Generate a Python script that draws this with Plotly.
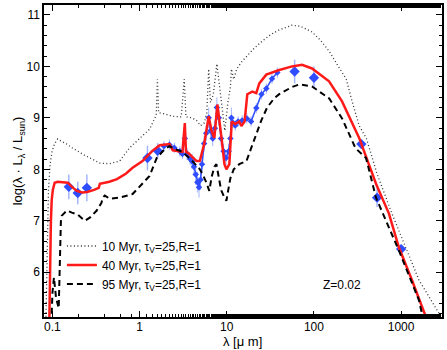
import plotly.graph_objects as go

# model SEDs: wavelength [micron], log(lambda L_lambda / L_sun)
wl_10 = [0.084, 0.087, 0.090, 0.094, 0.099, 0.106, 0.115, 0.125, 0.146, 0.167, 0.19, 0.23, 0.27,
         0.32, 0.35, 0.45, 0.59, 0.77, 1.0, 1.3, 1.55, 1.6, 1.65, 1.9, 2.4, 3.0, 3.25, 3.4, 4.0,
         4.5, 5.0, 5.5, 5.9, 6.2, 6.5, 7.0, 7.7, 8.3, 8.7, 9.5, 10.3, 11.0, 11.3, 12.0, 13.0,
         15.0, 17.0, 20.0, 25.0, 32.0, 40.0, 56.0, 70.0, 95.0, 120.0, 150.0, 190.0, 234.0,
         274.0, 330.0, 400.0, 530.0, 785.0, 1135.0, 1600.0, 2700.0, 3000.0]
sed_10 = [5.0, 6.6, 7.6, 8.1, 8.35, 8.5, 8.59, 8.55, 8.49, 8.42, 8.36, 8.28, 8.22,
          8.15, 8.12, 8.11, 8.16, 8.42, 8.6, 8.78, 9.05, 9.75, 9.1, 9.08, 9.03, 9.02, 9.75, 9.02, 9.0,
          8.95, 8.85, 8.9, 9.1, 9.95, 9.3, 9.45, 10.05, 9.6, 9.2, 8.75, 9.3, 9.6, 9.95, 9.75, 9.95,
          10.1, 10.2, 10.33, 10.48, 10.62, 10.71, 10.8, 10.78, 10.67, 10.5, 10.29, 10.0, 9.76,
          9.32, 8.85, 8.6, 7.91, 7.14, 6.48, 5.85, 5.21, 5.1]

wl_40 = [0.092, 0.094, 0.096, 0.098, 0.101, 0.106, 0.115, 0.13, 0.15, 0.17, 0.19, 0.22, 0.25,
         0.3, 0.34, 0.35, 0.45, 0.55, 0.7, 0.83, 1.08, 1.4, 1.7, 2.2, 2.4, 3.1, 3.3, 3.4, 3.6,
         4.5, 4.9, 5.5, 6.2, 6.7, 7.2, 7.8, 8.2, 8.7, 9.4, 9.9, 10.7, 11.0, 11.4, 12.5, 13.9,
         14.7, 16.0, 17.2, 19.6, 21.8, 23.6, 28.4, 40.0, 56.0, 73.0, 95.0, 149.0, 210.0, 300.0,
         330.0, 515.0, 725.0, 944.0, 1330.0, 1925.0]
sed_40 = [5.0, 6.2, 7.0, 7.4, 7.6, 7.74, 7.76, 7.75, 7.74, 7.65, 7.58, 7.55, 7.56,
          7.6, 7.64, 7.72, 7.76, 7.81, 7.92, 8.03, 8.16, 8.36, 8.47, 8.49, 8.37, 8.34, 8.9, 8.34, 8.32,
          8.16, 8.16, 8.49, 9.03, 8.74, 8.61, 9.26, 8.99, 8.61, 8.1, 8.0, 8.1, 8.55, 8.93, 8.88, 8.93,
          8.84, 8.93, 9.46, 9.51, 9.48, 9.67, 9.84, 9.93, 10.0, 10.03, 9.96, 9.71, 9.32, 8.74,
          8.61, 7.72, 7.14, 6.48, 5.85, 5.13]

wl_95 = [0.097, 0.1, 0.104, 0.11, 0.118, 0.121, 0.125, 0.128, 0.146, 0.167, 0.195, 0.235, 0.268,
         0.322, 0.365, 0.377, 0.398, 0.454, 0.59, 0.83, 1.08, 1.3, 1.57, 1.93, 2.2, 2.5, 3.1,
         4.04, 4.86, 5.3, 5.8, 6.3, 6.7, 7.2, 7.6, 8.0, 8.6, 9.4, 9.9, 10.4, 11.0, 12.0, 13.9,
         16.8, 18.5, 20.7, 24.9, 29.0, 35.0, 40.0, 56.0, 68.0, 95.0, 149.0, 210.0, 300.0, 396.0,
         515.0, 725.0, 944.0, 1600.0, 1730.0]
sed_95 = [5.0, 5.6, 5.9, 5.5, 5.3, 6.0, 7.0, 7.1, 7.2, 7.16, 7.12, 7.0, 7.06,
          7.2, 7.35, 7.45, 7.49, 7.43, 7.45, 7.52, 7.72, 7.87, 8.22, 8.39, 8.45, 8.4, 8.34,
          8.16, 8.01, 7.9, 7.75, 7.58, 7.85, 8.05, 8.1, 7.9, 7.6, 7.45, 7.39, 7.6, 7.83, 8.0, 8.1,
          8.16, 8.35, 8.6, 8.95, 9.2, 9.38, 9.46, 9.6, 9.65, 9.61, 9.38, 8.99, 8.41, 8.22,
          7.45, 6.87, 6.42, 5.46, 5.2]

# observed data
phot_wl = [0.154, 0.195, 0.248, 1.23, 1.61, 60.0, 100.0, 350.0, 530.0, 1000.0]
phot_val = [7.66, 7.54, 7.64, 8.22, 8.36, 9.90, 9.78, 8.49, 7.45, 6.45]
phot_err = [0.24, 0.22, 0.26, 0.24, 0.15, 0.23, 0.22, 0.06, 0.18, 0.05]

spec_wl = [1.9, 2.2, 2.5, 2.9, 3.1, 3.3, 3.5, 3.8, 4.0, 4.2, 4.4, 4.6, 4.8, 5.0, 5.2, 5.5,
           5.8, 6.2, 6.5, 6.9, 7.3, 7.7, 8.1, 8.6, 9.2, 9.8, 10.5, 11.0, 11.3, 11.8, 12.5,
           13.5, 15.0, 17.0, 19.0, 21.8, 25.0, 28.4, 33.0, 38.0]
spec_val = [8.45, 8.48, 8.42, 8.35, 8.3, 8.6, 8.3, 8.2, 8.15, 8.05, 7.9, 7.75, 7.65, 7.8, 8.1, 8.5,
            8.7, 9.0, 8.75, 8.6, 8.8, 9.2, 9.0, 8.6, 8.35, 8.22, 8.35, 8.6, 9.0, 8.9, 8.85,
            8.93, 8.95, 8.99, 8.93, 9.19, 9.46, 9.57, 9.76, 9.88]
spec_err = [0.1, 0.1, 0.1, 0.1, 0.1, 0.1, 0.12, 0.12, 0.15, 0.15, 0.2, 0.2, 0.2, 0.2, 0.15, 0.15,
            0.15, 0.2, 0.15, 0.15, 0.15, 0.2, 0.15, 0.15, 0.15, 0.15, 0.15, 0.15, 0.2, 0.1, 0.1,
            0.1, 0.1, 0.1, 0.1, 0.1, 0.1, 0.1, 0.1, 0.1]

FONT = "Liberation Sans, Arial, sans-serif"
BLUE = "#2f4cff"
ERR = "rgba(90,120,255,0.55)"

fig = go.Figure()
fig.add_trace(go.Scatter(x=spec_wl, y=spec_val, mode="lines+markers", showlegend=False,
                         line=dict(color=BLUE, width=1.5),
                         marker=dict(symbol="diamond", size=5, color=BLUE),
                         error_y=dict(type="data", array=spec_err, color=ERR,
                                      thickness=1, width=0)))
fig.add_trace(go.Scatter(x=phot_wl, y=phot_val, mode="markers", showlegend=False,
                         marker=dict(symbol="diamond", size=8, color=BLUE),
                         error_y=dict(type="data", array=phot_err, color=ERR,
                                      thickness=1.5, width=0)))
fig.add_trace(go.Scatter(x=wl_10, y=sed_10, mode="lines", name="10 Myr, τ<sub>V</sub>=25,R=1",
                         line=dict(color="#333333", width=1.3, dash="1px,2.5px")))
fig.add_trace(go.Scatter(x=wl_40, y=sed_40, mode="lines", name="40 Myr, τ<sub>V</sub>=25,R=1",
                         line=dict(color="#ff1a1a", width=2.5)))
fig.add_trace(go.Scatter(x=wl_95, y=sed_95, mode="lines", name="95 Myr, τ<sub>V</sub>=25,R=1",
                         line=dict(color="black", width=2, dash="6px,4px")))

axis_common = dict(showline=True, linecolor="black", linewidth=1.5, mirror="ticks",
                   ticks="inside", tickcolor="black", showgrid=False, zeroline=False,
                   tickfont=dict(family=FONT, size=12, color="black"))

fig.update_layout(
    width=447, height=350,
    margin=dict(l=44, r=4, t=3, b=33),
    plot_bgcolor="white", paper_bgcolor="white",
    font=dict(family=FONT, size=12, color="black"),
    xaxis=dict(type="log", range=[-1.097, 3.469], tickvals=[0.1, 1, 10, 100, 1000],
               ticktext=["0.1", "1", "10", "100", "1000"], ticklen=6, ticklabelstandoff=-2,
               minor=dict(ticks="inside", ticklen=3, tickcolor="black", showgrid=False),
               **axis_common),
    yaxis=dict(range=[5.131, 11.193], dtick=1, ticklen=6,
               minor=dict(ticks="inside", ticklen=3, dtick=0.2, tickcolor="black", showgrid=False),
               title=dict(text="log(λ · L<sub>λ</sub> / L<sub>sun</sub>)",
                          font=dict(family=FONT, size=13), standoff=1),
               **axis_common),
    legend=dict(x=0.045, y=0.274, xanchor="left", yanchor="top", bgcolor="rgba(0,0,0,0)",
                itemwidth=30, font=dict(family=FONT, size=12), tracegroupgap=0),
    annotations=[
        dict(text="Z=0.02", xref="paper", yref="paper", x=0.749, y=0.102,
             xanchor="center", yanchor="middle", showarrow=False,
             font=dict(family=FONT, size=12)),
        # x-axis title, placed by hand just under the tick labels
        dict(text="λ [μ m]", xref="paper", yref="paper", x=0.499, y=-0.080,
             xanchor="center", yanchor="middle", showarrow=False,
             font=dict(family=FONT, size=13)),
    ],
)

# the page body has a default 8px margin; drop it so the figure sits at the corner
fig.write_html("out.html", config={"displayModeBar": False},
               post_script="document.body.style.margin='0';")
